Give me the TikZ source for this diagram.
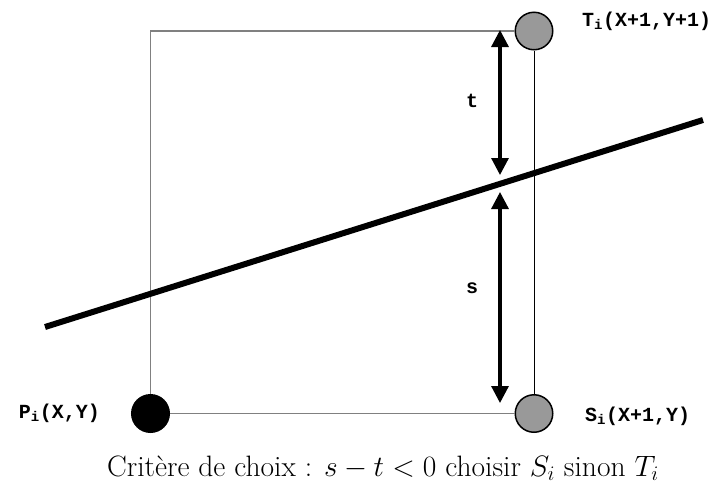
\RequirePackage{fix-cm}
\documentclass[tikz,border=0pt]{standalone}
\usepackage{fontspec}
\usetikzlibrary{arrows.meta,positioning}
\newfontfamily\lblfont{Liberation Mono}
\definecolor{ink}{HTML}{000000}
\definecolor{framegray}{HTML}{808080}
\definecolor{dotgray}{HTML}{999999}
\tikzset{
  dotg/.style={circle,draw=ink,line width=1.5pt,fill=dotgray,minimum size=37.5pt,inner sep=0pt},
  dotb/.style={dotg,fill=ink},
  lbl/.style={font=\lblfont\bfseries\fontsize{20}{24}\selectfont,text=ink,inner sep=0pt},
  captxt/.style={font=\fontsize{29.5}{35}\selectfont,text=ink,inner sep=0pt},
  rect/.style={draw=framegray,line width=1.5pt},
  thinl/.style={draw=ink,line width=1pt},
  cutl/.style={draw=ink,line width=6pt},
  dbl/.style={{Triangle[length=17pt,width=17pt]}-{Triangle[length=17pt,width=17pt]},draw=ink,line width=3.2pt},
}
\begin{document}
\begin{tikzpicture}[x=1pt,y=-1pt]
  \useasboundingbox (0,0) rectangle (718,488);
  \node[dotb] (P) at (150.5,413.5) {};
  \node[dotg] (S) at (534,413.5) {};
  \node[dotg] (T) at (534,31) {};
  \draw[rect] (P) |- (T);
  \draw[rect] (P) -- (S);
  \draw[thinl] (T) -- (S);

  \coordinate (l0) at (45,327); \coordinate (l1) at (703,120);
  \draw[cutl] (l0) -- (l1);

  \coordinate (a1) at (500,30); \coordinate (a2) at (500,175);
  \coordinate (a3) at (500,192); \coordinate (a4) at (500,403);
  \draw[dbl] (a1) -- (a2);
  \draw[dbl] (a3) -- (a4);
  \node[lbl] (tl) at (472,101) {t};
  \node[lbl] (sl) at (472,288) {s};

  \node[lbl,anchor=west] (Tl) at (582,21) {T\textsubscript{i}(X+1,Y+1)};
  \node[lbl,anchor=west] (Sl) at (585,416) {S\textsubscript{i}(X+1,Y)};
  \node[lbl,anchor=east] (Pl) at (100,413) {P\textsubscript{i}(X,Y)};

  \node[captxt,anchor=base] (crit) at (383,476) {Critère de choix : $s-t<0$ choisir $S_i$ sinon $T_i$};
\end{tikzpicture}
\end{document}
